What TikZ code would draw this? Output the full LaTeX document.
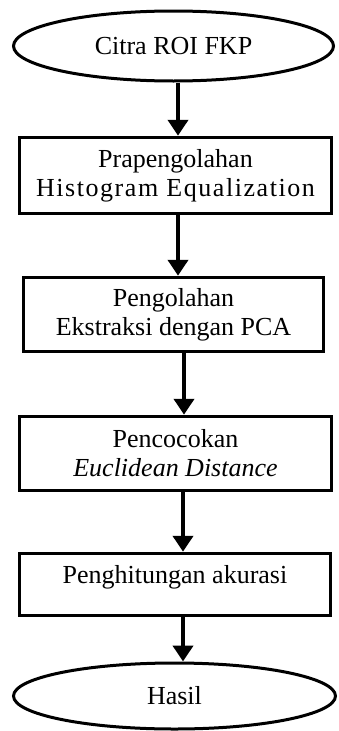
\documentclass[tikz,border=0pt]{standalone}
\usepackage{fontspec}
\setmainfont{Liberation Serif}
\usetikzlibrary{shapes.geometric,arrows.meta}
\tikzset{
  every node/.style={font=\fontsize{26}{29}\selectfont, align=center, inner sep=0pt},
  procbox/.style={draw, line width=3.5pt, rectangle},
  termnode/.style={draw, line width=3pt, ellipse},
  flowarrow/.style={line width=4.5pt, -{Triangle[width=20pt,length=16pt]}}
}
\begin{document}
\begin{tikzpicture}[x=1pt,y=-1pt]
\useasboundingbox (0,0) rectangle (339,731);
\node[termnode, minimum width=320pt, minimum height=70pt] (start) at (173.5,46) {Citra ROI FKP};
\node[procbox, minimum width=312pt, minimum height=76pt] (pre) at (175.5,175.5)
  {Prapengolahan\\{\addfontfeature{LetterSpace=6}Histogram Equalization}};
\node[procbox, minimum width=300pt, minimum height=74pt] (ext) at (173.5,314.5)
  {Pengolahan\\Ekstraksi dengan PCA};
\node[procbox, minimum width=312pt, minimum height=74pt] (match) at (175.5,453.5)
  {Pencocokan\\\textit{Euclidean Distance}};
\node[procbox, minimum width=311pt, minimum height=62pt, text height=18pt, text depth=21pt] (acc) at (175,584.5)
  {Penghitungan akurasi};
\node[termnode, minimum width=322pt, minimum height=66pt] (end) at (174.5,696) {Hasil};
\draw[flowarrow] ([xshift=4.5pt]start.south) -- ([xshift=2.5pt]pre.north);
\draw[flowarrow] ([xshift=2.5pt]pre.south) -- ([xshift=4.5pt]ext.north);
\draw[flowarrow] ([xshift=10.5pt]ext.south) -- ([xshift=8.5pt]match.north);
\draw[flowarrow] ([xshift=7.5pt]match.south) -- ([xshift=8pt]acc.north);
\draw[flowarrow] ([xshift=8pt]acc.south) -- ([xshift=8.5pt]end.north);
\end{tikzpicture}
\end{document}
